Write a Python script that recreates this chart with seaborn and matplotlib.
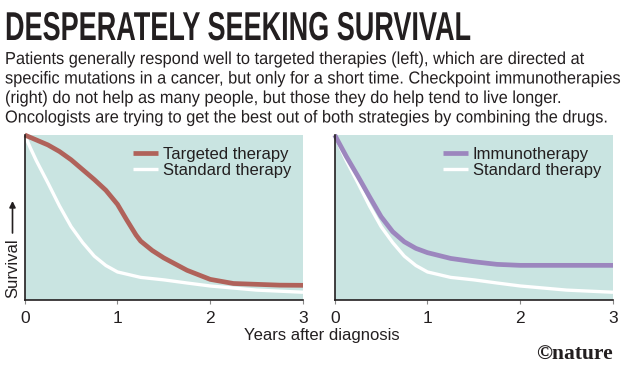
import matplotlib
matplotlib.use("Agg")
import matplotlib.pyplot as plt
import matplotlib.patheffects as pe
from matplotlib.transforms import Affine2D
from matplotlib import font_manager
import pandas as pd
import seaborn as sns

# Survival curves (0 = none, 1 = everyone)
years_targeted = [0, 0.125, 0.25, 0.375, 0.5, 0.625, 0.75, 0.875, 1.0, 1.1, 1.2, 1.25,
                  1.375, 1.5, 1.75, 2.0, 2.25, 2.5, 2.75, 3.0]
targeted = [1.0, 0.97, 0.94, 0.90, 0.85, 0.79, 0.73, 0.665, 0.58, 0.485, 0.394, 0.357,
            0.30, 0.255, 0.18, 0.125, 0.10, 0.095, 0.09, 0.089]

years_standard = [0, 0.0625, 0.125, 0.25, 0.375, 0.5, 0.625, 0.75, 0.875, 1.0, 1.25,
                  1.5, 1.75, 2.0, 2.5, 3.0]
standard = [1.0, 0.92, 0.845, 0.71, 0.57, 0.445, 0.348, 0.266, 0.209, 0.17, 0.137,
            0.122, 0.103, 0.085, 0.06, 0.047]

years_immuno = [0, 0.125, 0.25, 0.375, 0.5, 0.625, 0.75, 0.875, 1.0, 1.25, 1.5, 1.75,
                2.0, 2.5, 3.0]
immuno = [1.0, 0.87, 0.75, 0.626, 0.505, 0.414, 0.353, 0.313, 0.287, 0.252, 0.232,
          0.216, 0.21, 0.21, 0.21]

year_ticks = [0, 1, 2, 3]

title = "DESPERATELY SEEKING SURVIVAL"
body_lines = [
    "Patients generally respond well to targeted therapies (left), which are directed at",
    "specific mutations in a cancer, but only for a short time. Checkpoint immunotherapies",
    "(right) do not help as many people, but those they do help tend to live longer.",
    "Oncologists are trying to get the best out of both strategies by combining the drugs.",
]

BG = "#c9e4e1"
INK = "#231f20"
RED = "#b0625a"
PURPLE = "#9c86be"

sns.set_theme(style="white")


def have_font(name):
    try:
        font_manager.findfont(font_manager.FontProperties(family=name),
                              fallback_to_default=False)
        return True
    except Exception:
        return False


sans = "Liberation Sans" if have_font("Liberation Sans") else "DejaVu Sans"
narrow = "Liberation Sans Narrow" if have_font("Liberation Sans Narrow") else sans
plt.rcParams["font.family"] = [sans, "DejaVu Sans"]


class VStretch(pe.AbstractPathEffect):
    """Stretch glyphs vertically about the baseline (condensed look)."""

    def __init__(self, sy):
        super().__init__()
        self.sy = sy

    def draw_path(self, renderer, gc, tpath, affine, rgbFace=None):
        renderer.draw_path(gc, tpath, Affine2D().scale(1, self.sy) + affine, rgbFace)


W, H = 630, 374
fig = plt.figure(figsize=(W / 100, H / 100), dpi=100)
renderer = fig.canvas.get_renderer()


def px(x, y):
    return x / W, 1 - y / H


def fit(t, target_w, cap_px):
    w = t.get_window_extent(renderer).width
    t.set_fontsize(t.get_fontsize() * target_w / w)
    fs_px = t.get_fontsize() * 100 / 72
    t.set_path_effects([VStretch(cap_px / (0.72 * fs_px))])


# Title and standfirst
t = fig.text(*px(5, 40), title, family=[narrow, "DejaVu Sans"], weight="bold",
             color=INK, fontsize=30, ha="left", va="baseline")
fit(t, 465, 29)

baselines = [64, 83.5, 103, 122.5]
body = [fig.text(*px(5, yb), line, family=[narrow, "DejaVu Sans"], color=INK,
                 fontsize=12, ha="left", va="baseline")
        for line, yb in zip(body_lines, baselines)]
w2 = body[1].get_window_extent(renderer).width
scale = 617 / w2
for b in body:
    b.set_fontsize(b.get_fontsize() * scale)
    fs_px = b.get_fontsize() * 100 / 72
    b.set_path_effects([VStretch(12.5 / (0.72 * fs_px))])

# Panels
ax1 = fig.add_axes([24.7 / W, 1 - 300 / H, 278.3 / W, 165 / H])
ax2 = fig.add_axes([334.7 / W, 1 - 300 / H, 278.3 / W, 165 / H])

df_std = pd.DataFrame({"year": years_standard, "survival": standard})
df_tar = pd.DataFrame({"year": years_targeted, "survival": targeted})
df_imm = pd.DataFrame({"year": years_immuno, "survival": immuno})

panels = [
    (ax1, df_tar, "Targeted therapy", RED),
    (ax2, df_imm, "Immunotherapy", PURPLE),
]
for ax, df, label, color in panels:
    ax.set_facecolor(BG)
    sns.lineplot(data=df_std, x="year", y="survival", ax=ax, color="white",
                 linewidth=2.4, label="Standard therapy", clip_on=False,
                 solid_capstyle="butt", solid_joinstyle="round", zorder=3)
    sns.lineplot(data=df, x="year", y="survival", ax=ax, color=color,
                 linewidth=3.4, label=label, clip_on=False,
                 solid_capstyle="butt", solid_joinstyle="round", zorder=4)
    ax.set_xlim(0, 3)
    ax.set_ylim(0, 1.0)
    ax.set_xticks(year_ticks)
    ax.set_xticklabels([str(v) for v in year_ticks])
    ax.set_yticks([])
    ax.set_xlabel("")
    ax.set_ylabel("")
    for side in ["top", "right"]:
        ax.spines[side].set_visible(False)
    for side in ["left", "bottom"]:
        ax.spines[side].set_color(INK)
        ax.spines[side].set_linewidth(1.2)
        ax.spines[side].set_zorder(5)
    ax.tick_params(axis="x", direction="out", length=3, width=0.8, color="#888888",
                   pad=5, labelsize=12.5, labelcolor=INK, bottom=True)
    handles, labels = ax.get_legend_handles_labels()
    leg = ax.legend(handles[::-1], labels[::-1], loc="upper right", frameon=False,
                    fontsize=12, handlelength=1.5, handletextpad=0.3,
                    labelspacing=0.05, borderaxespad=0.3, borderpad=0.4)
    for txt in leg.get_texts():
        txt.set_color(INK)

# Axis labels
fig.text(*px(12.5, 298), "Survival", rotation=90, ha="center", va="bottom",
         fontsize=12, color=INK)
ax1.annotate("", xy=px(12.5, 201), xytext=px(12.5, 233),
             xycoords="figure fraction", textcoords="figure fraction",
             arrowprops=dict(arrowstyle="-|>", color=INK, lw=1.2,
                             mutation_scale=9, shrinkA=0, shrinkB=0))
fig.text(*px(322, 340), "Years after diagnosis", ha="center", va="baseline",
         fontsize=12, color=INK)

# Credit
fig.text(*px(613, 360), "\u00a9nature", ha="right", va="baseline",
         family=["Liberation Serif", "DejaVu Serif"], weight="bold",
         fontsize=15.5, color=INK)

fig.savefig("out.png", dpi=100, facecolor="white")
